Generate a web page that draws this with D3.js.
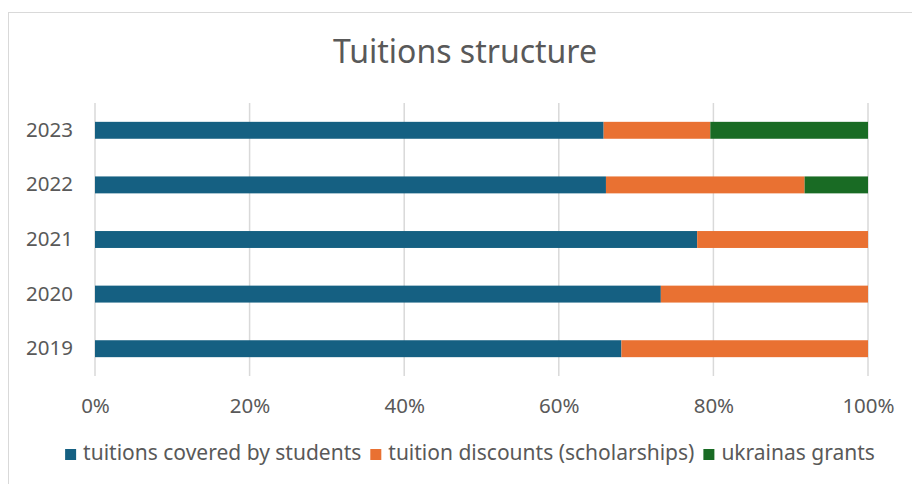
<!DOCTYPE html>
<html>
<head>
<meta charset="utf-8">
<script src="https://cdn.jsdelivr.net/npm/d3@7"></script>
<style>
  html, body { margin: 0; padding: 0; background: #fff; }
  svg { display: block; font-family: "Noto Sans", sans-serif; }
</style>
</head>
<body>
<svg id="chart" width="912" height="484"></svg>
<script>
// Years shown top to bottom
const years = ["2023", "2022", "2021", "2020", "2019"];
// Shares of tuition (in %) per year
const coveredByStudents = [65.8, 66.1, 77.9, 73.2, 68.1];
const tuitionDiscounts  = [13.8, 25.7, 22.1, 26.8, 31.9];
const ukrainasGrants    = [20.4,  8.2,  0.0,  0.0,  0.0];
const seriesNames = ["tuitions covered by students", "tuition discounts (scholarships)", "ukrainas grants"];
const seriesColors = ["#156082", "#E97132", "#196B24"];
const tickValues = [0, 20, 40, 60, 80, 100];

const svg = d3.select("#chart");
const textColor = "#595959";
const gridColor = "#D9D9D9";

// outer chart frame
svg.append("rect")
  .attr("x", 8.5).attr("y", 12.5)
  .attr("width", 1000).attr("height", 1000)
  .attr("fill", "none").attr("stroke", gridColor).attr("stroke-width", 1);

// title
svg.append("text")
  .attr("x", 465).attr("y", 63)
  .attr("text-anchor", "middle")
  .attr("fill", textColor)
  .attr("font-size", 32)
  .text("Tuitions structure");

const x = d3.scaleLinear().domain([0, 100]).range([95, 868]);
const y = d3.scaleBand().domain(years).range([103, 376]).paddingInner(0.69).paddingOuter(0.345);

// vertical gridlines
svg.append("g").selectAll("line").data(tickValues).join("line")
  .attr("x1", d => x(d)).attr("x2", d => x(d))
  .attr("y1", 103).attr("y2", 376)
  .attr("stroke", gridColor).attr("stroke-width", 1.5);

// x axis tick labels
const xAxis = d3.axisBottom(x).tickValues(tickValues).tickFormat(d => d + "%").tickSize(0).tickPadding(0);
const gx = svg.append("g").attr("transform", "translate(0,413)").call(xAxis);
gx.select(".domain").remove();
gx.selectAll("text").attr("fill", textColor).attr("font-size", 20.5)
  .attr("font-family", "Noto Sans, sans-serif").attr("dy", "0");

// y axis category labels
const yAxis = d3.axisLeft(y).tickSize(0).tickPadding(22);
const gy = svg.append("g").attr("transform", "translate(95,0)").call(yAxis);
gy.select(".domain").remove();
gy.selectAll("text").attr("fill", textColor).attr("font-size", 20.5)
  .attr("font-family", "Noto Sans, sans-serif");

// stacked bars
const rows = years.map((yr, i) => ({
  year: yr,
  [seriesNames[0]]: coveredByStudents[i],
  [seriesNames[1]]: tuitionDiscounts[i],
  [seriesNames[2]]: ukrainasGrants[i]
}));
const stacked = d3.stack().keys(seriesNames)(rows);

svg.append("g").selectAll("g").data(stacked).join("g")
  .attr("fill", (d, i) => seriesColors[i])
  .selectAll("rect").data(d => d.filter(p => p[1] - p[0] > 0)).join("rect")
  .attr("x", d => x(d[0]))
  .attr("width", d => x(d[1]) - x(d[0]))
  .attr("y", d => y(d.data.year))
  .attr("height", y.bandwidth());

// legend
const legend = svg.append("g");
const items = legend.selectAll("g").data(seriesNames).join("g");
items.append("rect").attr("width", 11).attr("height", 11).attr("y", -11)
  .attr("fill", (d, i) => seriesColors[i]);
items.append("text").attr("x", 18).attr("fill", textColor).attr("font-size", 21).text(d => d);
const widths = [];
items.each(function () {
  widths.push(18 + this.querySelector("text").getComputedTextLength());
});
const gap = 9;
const total = d3.sum(widths) + gap * (widths.length - 1);
const start = 470 - total / 2;
items.attr("transform", (d, i) => {
  const tx = start + d3.sum(widths.slice(0, i)) + gap * i;
  return `translate(${tx},460)`;
});
</script>
</body>
</html>
